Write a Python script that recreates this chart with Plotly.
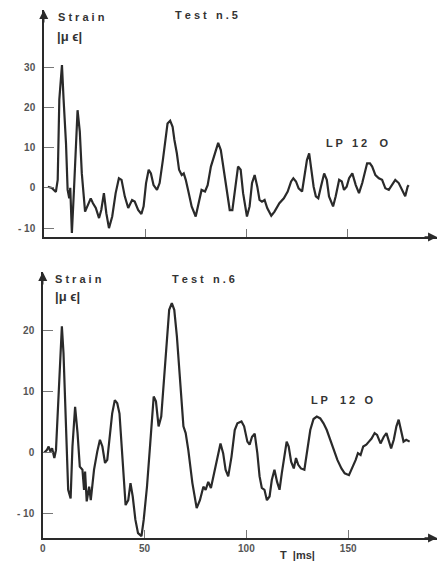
import plotly.graph_objects as go

# Test n.5 (top)
t5 = [2, 4, 6, 6.9, 7.7, 9, 9.8, 11, 11.8, 12.6, 13.1, 13.9, 15, 16.7, 17.8, 18.8, 20.4, 22, 23.2, 24.3,
      25.7, 27.3, 28.4, 29.7, 30.9, 32.2, 33.8, 35.5, 37.1, 38.4, 40, 41.7, 43.6, 44.9, 46.6, 48.2, 49.3,
      50.5, 51.8, 52.9, 54.2, 55.9, 57.2, 58.8, 60, 61.1, 62.4, 63.6, 64.5, 65.7, 66.8, 68.1, 69.1, 70.1,
      71.4, 73, 75, 76.3, 77.9, 79.6, 80.9, 82.5, 84.5, 86.1, 87.4, 88.6, 90.2, 91.8, 93.1, 94.3, 95.9,
      97.2, 98.4, 100.3, 101.6, 102.8, 104.1, 105.4, 106.5, 107.7, 109, 110.3, 112.3, 113.9, 116.3, 118.5,
      120.4, 122.1, 123.2, 124.5, 125.8, 127.5, 128.9, 129.9, 131, 132.2, 133.2, 134.3, 135.5, 136.8,
      138.4, 139.7, 140.8, 142.8, 144.1, 145.8, 147.1, 148.2, 149.5, 150.7, 152.3, 154, 155.6, 157.2,
      158.8, 159.6, 161, 162.1, 163.7, 165.4, 167, 168.6, 170.3, 171.9, 173.5, 175.2, 176.8, 178.4,
      179.6, 180.1]
s5 = [0.3, 0, -1, 2, 22, 30.5, 22, 11, -0.5, -2.6, 0, -11.2, 0.3, 19.3, 14, 3.6, -5.9, -4.2, -2.6, -3.8,
      -5, -7.5, -5.5, -1.3, -6.3, -10, -7.1, -1.3, 2.4, 2, -2.1, -5, -3, -3.4, -5.5, -6.5, -4.6,
      1.2, 4.5, 3.6, 0.7, -0.5, 1.2, 6.9, 11.9, 16, 16.7, 15.2, 11.9, 8.6, 4.5, 3.2, 3.6, 2,
      -0.9, -4.6, -7.1, -3.8, -0.5, -0.9, 0.7, 5.3, 8.6, 11.2, 9.4, 5.3, -0.5, -5.5, -5.5, -1.3, 5.3,
      4.5, -1.3, -7.1, -4.6, 1.2, 3.2, 0.3, -3, -3.4, -3, -5, -6.9, -5.9, -3.8, -2.6,
      -0.9, 1.6, 2.4, 1.6, -0.1, -0.9, 3.6, 6.9, 8.6, 4.5, 0.3, -2.1, -2.6, 0.3,
      3.6, 2, -2.1, -4.6, -2.1, 2, 1.6, -0.5, 0.3, 2.4, 3.6, 0.7, -1.3, 1.2,
      4.9, 6.1, 6.1, 5.3, 3.2, 2.4, 2, -0.1, -0.5, 0.7, 2, 1.2, -0.5, -2.1,
      0.3, 0.7]

# Test n.6 (bottom)
t6 = [0.8, 2, 2.9, 3.7, 4.6, 5.7, 6.5, 7.8, 8.6, 9.4, 10.2, 11.4, 12.5, 13.7, 14.6, 15.9, 17.1, 18.2,
      19.5, 20.3, 20.8, 21.6, 22.8, 23.6, 25.2, 26.8, 28.1, 29.3, 30.6, 31.7, 32.8, 34.1, 35.4, 36.6,
      37.7, 38.7, 39.5, 40.7, 42, 43.1, 44.2, 45.5, 46.8, 48.5, 49.6, 51.2, 52.8, 54.5, 55.6, 56.9,
      58.2, 59.3, 60.5, 62.1, 63.4, 64.6, 65.9, 67.5, 69.1, 70.2, 71.5, 73.5, 75.6, 77.2, 78.9, 80,
      81.3, 82.6, 84.2, 85.9, 87.3, 88.6, 89.8, 91.1, 92.7, 94.3, 95.6, 97.6, 98.9, 100.5, 101.6,
      102.8, 104.1, 105.4, 106.5, 107.6, 108.9, 110.1, 111.4, 112.5, 113.8, 115.1, 116.3, 117.4,
      118.7, 119.8, 120.8, 122, 123.3, 124.4, 125.5, 126.8, 128.5, 129.8, 131.4, 133, 134.6, 136.3,
      137.9, 139.5, 140.7, 141.8, 143.1, 144.7, 146.7, 148.3, 150.4, 152, 153.7, 154.8, 156.1, 157.4,
      158.9, 160.2, 161.5, 163, 164.2, 165.9, 167.5, 168.8, 169.9, 171.1, 172.4, 173.7, 174.8, 175.9,
      177.2, 178.5, 180.2]
s6 = [0, 0.4, 1, 0.2, 0.7, -0.9, 0.4, 8.6, 15.7, 20.7, 16.3, 5.9, -6.1, -7.5, 1, 7.5, 3.2, -2.3,
      -2.8, -6.1, -3.1, -8, -5.6, -7.8, -2.8, 0.2, 2.1, 1, -1.7, -1.2, 2.6, 6.4, 8.6, 8.1,
      6.4, 1, -3.9, -8.6, -7.8, -5, -7.2, -11, -13.2, -13.7, -11, -5.6, 1.5, 9.2, 8.4, 4.3,
      5.9, 10.8, 17.4, 23.4, 24.5, 23.4, 19, 10.8, 4.3, 3.2, 0.4, -5, -9.1, -7.8, -5.6, -6.1,
      -4.8, -5.8, -3.4, -0.7, 1.5, -0.1, -2.8, -3.9, -0.7, 3.7, 4.8, 5.1, 4.3, 1.8, 1.3,
      2.6, 3.1, -0.1, -3.9, -5.8, -6.1, -7.8, -7.2, -4.5, -2.8, -4.8, -6.1, -3.4,
      -0.7, 1.8, 1, -1.5, -2.6, -0.9, -2, -2.6, -2.8, 0.4, 3.7, 5.5, 5.9, 5.6,
      4.8, 3.7, 2.6, 1.8, 0.4, -1.2, -2.6, -3.4, -3.7, -2.6, -1.2, -0.1, -0.4, 1,
      1.3, 1.8, 2.3, 3.2, 2.9, 1.5, 2.6, 3.2, 1.8, 0.7, 2.1, 4.3, 5.4, 3.7,
      1.8, 2.1, 1.8]

y5_ticks = [30, 20, 10, 0, -10]
y5_labels = ["<b>30</b>", "<b>20</b>", "<b>10</b>", "<b>0</b>", "<b>- 10</b>"]
y6_ticks = [20, 10, 0, -10]
y6_labels = ["<b>20</b>", "<b>10</b>", "<b>0</b>", "<b>- 10</b>"]
x_ticks = [0, 50, 100, 150]
x_labels = ["<b>0</b>", "<b>50</b>", "<b>100</b>", "<b>150</b>"]

INK = "#2a2a2a"
FONT = "Liberation Sans, Arial, sans-serif"
W, H = 445, 564

fig = go.Figure()
fig.add_trace(go.Scatter(x=t5, y=s5, mode="lines", line=dict(color=INK, width=2.2), xaxis="x", yaxis="y",
                         showlegend=False, hoverinfo="skip"))
fig.add_trace(go.Scatter(x=t6, y=s6, mode="lines", line=dict(color=INK, width=2.2), xaxis="x2", yaxis="y2",
                         showlegend=False, hoverinfo="skip"))

x5_rng = [0, (437 - 41) / 2.04]
y5_rng = [-12.2, 44.2]
x6_rng = [0, (437 - 40) / 2.05]
y6_rng = [-14.0, 29.6]

common_axis = dict(showgrid=False, zeroline=False, showline=True, linecolor=INK, linewidth=1.5,
                   ticks="inside", tickcolor="#777", tickwidth=1, fixedrange=True)
tickfont = dict(size=10, color="#555", family=FONT)

fig.update_layout(
    width=W, height=H,
    margin=dict(l=0, r=0, t=0, b=0),
    paper_bgcolor="white", plot_bgcolor="white",
    font=dict(family=FONT, color="#333", size=11),
    xaxis=dict(domain=[41 / W, 437 / W], range=x5_rng, anchor="y", tickvals=x_ticks[1:],
               showticklabels=False, ticklen=8, **common_axis),
    yaxis=dict(domain=[(H - 237) / H, (H - 10) / H], range=y5_rng, anchor="x", tickvals=y5_ticks,
               ticktext=y5_labels, ticklen=10, tickfont=tickfont, ticklabelstandoff=5, **common_axis),
    xaxis2=dict(domain=[40 / W, 437 / W], range=x6_rng, anchor="y2", tickvals=x_ticks,
                ticktext=x_labels, ticklen=8, tickfont=tickfont, **common_axis),
    yaxis2=dict(domain=[(H - 538) / H, (H - 272) / H], range=y6_rng, anchor="x2", tickvals=y6_ticks,
                ticktext=y6_labels, ticklen=10, tickfont=tickfont, ticklabelstandoff=5, **common_axis),
)

def arrow(xref, yref, x, y, ax, ay):
    fig.add_annotation(x=x, y=y, xref=xref, yref=yref, ax=ax, ay=ay, showarrow=True, arrowhead=2,
                       arrowsize=1.2, arrowwidth=1.5, arrowcolor=INK, text="")

arrow("x", "y", x5_rng[1], y5_rng[0], -14, 0)
arrow("x", "y", 0, y5_rng[1], 0, 14)
arrow("x2", "y2", x6_rng[1], y6_rng[0], -14, 0)
arrow("x2", "y2", 0, y6_rng[1], 0, 14)

def label(px, py, text, size=11):
    fig.add_annotation(x=px / W, y=1 - py / H, xref="paper", yref="paper", text=text, showarrow=False,
                       xanchor="left", yanchor="middle", font=dict(size=size, color="#333", family=FONT))

label(53, 17, "<b>S t r a i n</b>")
label(52, 37, "<b>|μ ϵ|</b>", 13)
label(171, 15, "<b>T e s t   n . 5</b>")
label(323, 143, "<b>L P   1 2    O</b>")
label(50, 279, "<b>S t r a i n</b>")
label(50, 296, "<b>|μ ϵ|</b>", 13)
label(168, 279, "<b>T e s t   n . 6</b>")
label(308, 400, "<b>L P    1 2   O</b>")
label(277, 555, "<b>T  |ms|</b>")

fig.write_html("out.html", config={"displayModeBar": False, "staticPlot": True},
               post_script="document.body.style.margin='0';document.body.style.overflow='hidden';")
